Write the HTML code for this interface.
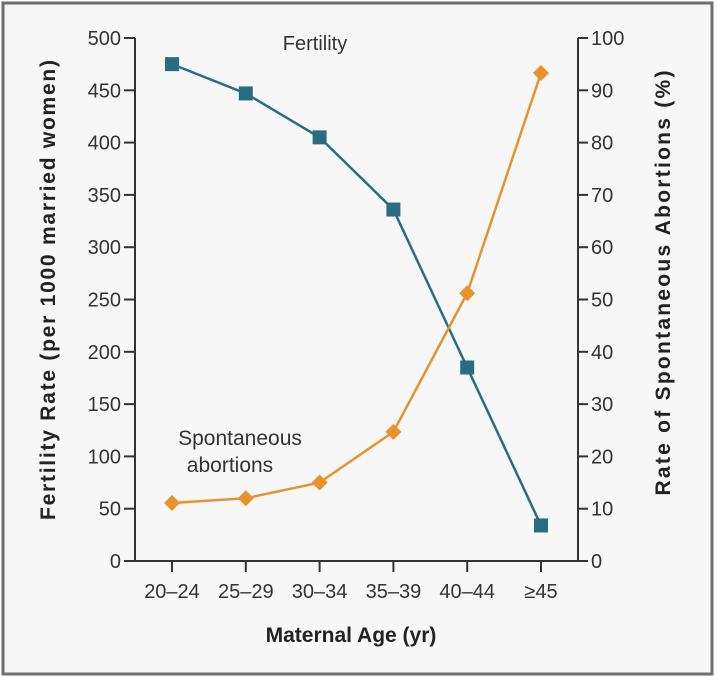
<!DOCTYPE html>
<html><head><meta charset="utf-8"><style>
html,body{margin:0;padding:0;background:#fff}
svg{display:block;font-family:"Liberation Sans",sans-serif}
</style></head><body>
<svg id="c" width="717" height="682" viewBox="0 0 717 682">
<rect x="3" y="3" width="709" height="671" fill="#f7f7f7" stroke="#6e6e6e" stroke-width="3"/>
<g id="g"></g>
</svg>
<script>
const categories=["20–24","25–29","30–34","35–39","40–44","≥45"];
const fertility=[475,447,405,336,185,34];
const abortions=[11.1,12,15,24.7,51.2,93.3];
const leftTicks=[0,50,100,150,200,250,300,350,400,450,500];
const rightTicks=[0,10,20,30,40,50,60,70,80,90,100];
const NS="http://www.w3.org/2000/svg";
const g=document.getElementById('g');
function el(t,a,p){const e=document.createElementNS(NS,t);for(const k in a)e.setAttribute(k,a[k]);(p||g).appendChild(e);return e;}
const L=135,R=578,Y0=561,Y1=38;
const yL=v=>Y0-(v/500)*(Y0-Y1);
const yR=v=>Y0-(v/100)*(Y0-Y1);
const xC=i=>172+i*73.8;
const ax="#333";
let e;
e=el('line',{x1:L,y1:Y1,x2:L,y2:Y0,stroke:ax,'stroke-width':2});


e=el('line',{x1:R,y1:Y1,x2:R,y2:Y0,stroke:ax,'stroke-width':2});


e=el('line',{x1:124,y1:Y0,x2:R,y2:Y0,stroke:ax,'stroke-width':2});


leftTicks.forEach(v=>{const y=yL(v);
e=el('line',{x1:124,y1:y,x2:L,y2:y,stroke:ax,'stroke-width':2});


e=el('text',{x:121,y:y+7,'text-anchor':'end','font-size':20,fill:'#333'});e.textContent=v;

});
rightTicks.forEach(v=>{const y=yR(v);
e=el('line',{x1:R,y1:y,x2:R+10,y2:y,stroke:ax,'stroke-width':2});


e=el('text',{x:R+13,y:y+7,'text-anchor':'start','font-size':20,fill:'#333'});e.textContent=v;

});
categories.forEach((c,i)=>{const x=xC(i);
e=el('line',{x1:x,y1:Y0,x2:x,y2:572,stroke:ax,'stroke-width':2});


e=el('text',{x:x,y:598,'text-anchor':'middle','font-size':20,fill:'#333'});e.textContent=c;

});
e=el('text',{x:351,y:642,'text-anchor':'middle','font-size':21,'font-weight':'bold',fill:'#222'});e.textContent="Maternal Age (yr)";


e=el('text',{x:0,y:0,'text-anchor':'middle','font-size':21,'font-weight':'bold',fill:'#222','textLength':460,'lengthAdjust':'spacing',transform:'translate(55,290) rotate(-90)'});e.textContent="Fertility Rate (per 1000 married women)";


e=el('text',{x:0,y:0,'text-anchor':'middle','font-size':21,'font-weight':'bold',fill:'#222','textLength':425,'lengthAdjust':'spacing',transform:'translate(670,283) rotate(-90)'});e.textContent="Rate of Spontaneous Abortions (%)";


const blue="#2a6d80",orange="#e8922a";
e=el('polyline',{points:fertility.map((v,i)=>xC(i)+','+yL(v)).join(' '),fill:'none',stroke:blue,'stroke-width':2.5});


fertility.forEach((v,i)=>{e=el('rect',{x:xC(i)-7,y:yL(v)-7,width:14,height:14,fill:blue});

});
e=el('polyline',{points:abortions.map((v,i)=>xC(i)+','+yR(v)).join(' '),fill:'none',stroke:orange,'stroke-width':2.5});


abortions.forEach((v,i)=>{const x=xC(i),y=yR(v);e=el('polygon',{points:`${x},${y-8} ${x+8},${y} ${x},${y+8} ${x-8},${y}`,fill:orange});

});
e=el('text',{x:315,y:50,'text-anchor':'middle','font-size':20,fill:'#333'});e.textContent="Fertility";


e=el('text',{x:240,y:445,'text-anchor':'middle','font-size':21,fill:'#333'});e.textContent="Spontaneous";


e=el('text',{x:230,y:472,'text-anchor':'middle','font-size':21,fill:'#333'});e.textContent="abortions";


</script>
</body></html>
